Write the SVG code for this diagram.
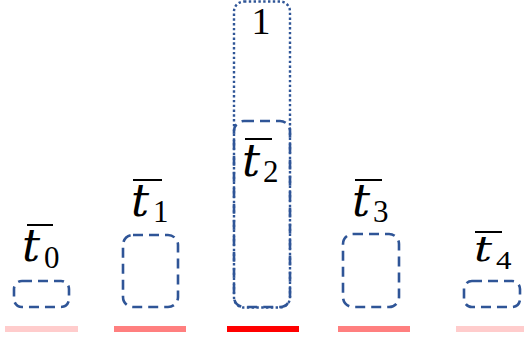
<svg xmlns="http://www.w3.org/2000/svg" width="524" height="339" viewBox="0 0 524 339">
<style>
.dash{fill:none;stroke:#2F5597;stroke-width:2.6;stroke-dasharray:10 6}
.dot{fill:none;stroke:#2F5597;stroke-width:2.4;stroke-dasharray:2.4 2.4}
.t{font-family:"DejaVu Serif",serif;font-style:italic;font-size:45px;fill:#000}
.s{font-family:"Liberation Serif",serif;font-size:31px;fill:#000}
.n{font-family:"Liberation Serif",serif;font-size:38px;fill:#000}
.ov{stroke:#000;stroke-width:2}
.bar{stroke-width:6}
</style>
<rect width="524" height="339" fill="#fff"/>
<g id="bars">
<line class="bar" x1="5" y1="329" x2="78" y2="329" stroke="#FFCCCC"/>
<line class="bar" x1="114" y1="329" x2="186" y2="329" stroke="#FF7F7F"/>
<line class="bar" x1="227" y1="329" x2="299" y2="329" stroke="#FF0000"/>
<line class="bar" x1="338" y1="329" x2="410" y2="329" stroke="#FF7F7F"/>
<line class="bar" x1="456" y1="329" x2="526" y2="329" stroke="#FFCCCC"/>
</g>
<g id="node-t0">
<rect class="dash" x="14" y="281" width="55" height="26" rx="8"/>
<line class="ov" x1="27" y1="225" x2="53" y2="225"/>
<text class="t" x="22" y="261">t</text>
<text class="s" x="44" y="268">0</text>
</g>
<g id="node-t1">
<rect class="dash" x="123" y="235" width="55" height="72" rx="10"/>
<line class="ov" x1="133" y1="180" x2="162" y2="180"/>
<text class="t" x="131" y="216">t</text>
<text class="s" x="153" y="222">1</text>
</g>
<g id="node-one">
<rect class="dot" x="234" y="1.5" width="56" height="306" rx="10"/>
<text class="n" x="261" y="34" text-anchor="middle">1</text>
</g>
<g id="node-t2">
<rect class="dash" x="234" y="121" width="56" height="186" rx="10"/>
<line class="ov" x1="245" y1="139" x2="272" y2="139"/>
<text class="t" x="242" y="176">t</text>
<text class="s" x="263" y="182">2</text>
</g>
<g id="node-t3">
<rect class="dash" x="343" y="234" width="56" height="73" rx="10"/>
<line class="ov" x1="355" y1="180" x2="382" y2="180"/>
<text class="t" x="352" y="216">t</text>
<text class="s" x="373" y="222">3</text>
</g>
<g id="node-t4">
<rect class="dash" x="464" y="281" width="56" height="26" rx="8"/>
<line class="ov" x1="475" y1="232" x2="502" y2="232"/>
<g transform="translate(0 261) scale(1 0.8) translate(0 -261)">
<text class="t" x="474" y="261">t</text>
<text class="s" x="496" y="271">4</text>
</g>
</g>
</svg>
